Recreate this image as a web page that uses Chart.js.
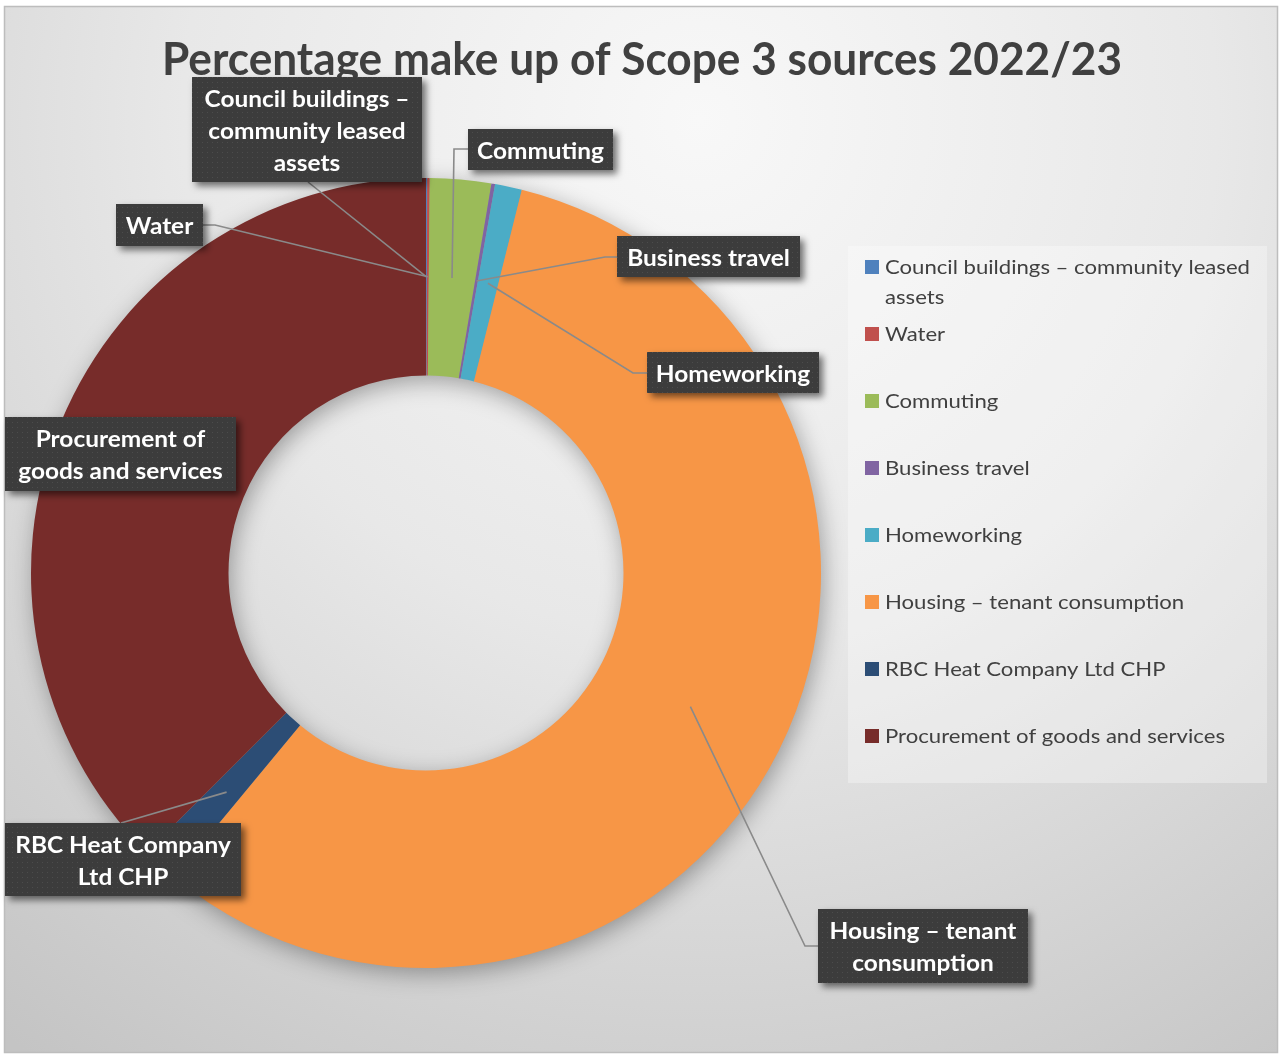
<!DOCTYPE html>
<html>
<head>
<meta charset="utf-8">
<script src="https://cdn.jsdelivr.net/npm/chart.js@4/dist/chart.umd.min.js"></script>
<style>
  html, body { margin: 0; padding: 0; background: #ffffff; }
  canvas { display: block; }
</style>
</head>
<body>
<canvas id="chart" width="1282" height="1055"></canvas>
<script>
// ---------------- DATA ----------------
const chartTitle = "Percentage make up of Scope 3 sources 2022/23";
const categories = [
  "Council buildings – community leased assets",
  "Water",
  "Commuting",
  "Business travel",
  "Homeworking",
  "Housing – tenant consumption",
  "RBC Heat Company Ltd CHP",
  "Procurement of goods and services"
];
// percentage share of each source
const shares = [0.05, 0.1, 2.5, 0.15, 1.1, 57.1, 1.5, 37.5];
const sliceColors = ["#4F81BD", "#C0504D", "#9BBB59", "#8064A2", "#4BACC6", "#F79646", "#2C4D75", "#772C2A"];
// how the data-label text is broken into lines
const dataLabelLines = [
  ["Council buildings –", "community leased", "assets"],
  ["Water"],
  ["Commuting"],
  ["Business travel"],
  ["Homeworking"],
  ["Housing – tenant", "consumption"],
  ["RBC Heat Company", "Ltd CHP"],
  ["Procurement of", "goods and services"]
];
// how the legend text is wrapped
const legendLines = [
  ["Council buildings – community leased", "assets"],
  ["Water"],
  ["Commuting"],
  ["Business travel"],
  ["Homeworking"],
  ["Housing – tenant consumption"],
  ["RBC Heat Company Ltd CHP"],
  ["Procurement of goods and services"]
];

// ---------------- LAYOUT (positions only) ----------------
const FONT = "Lato, 'Open Sans', 'Noto Sans', sans-serif";
// data label boxes: x, y, w, h, leader path from box to elbow (anchor = slice centre)
const labelLayout = [
  { box: [192, 77, 230, 105], path: [[308, 182]] },
  { box: [116, 204, 87, 42], path: [[203, 225], [215, 225]] },
  { box: [468, 129, 145, 41], path: [[468, 149], [454, 149]] },
  { box: [617, 236, 183, 41], path: [[617, 257], [605, 257]] },
  { box: [647, 352, 172, 41], path: [[647, 373], [633, 373]] },
  { box: [818, 909, 210, 74], path: [[818, 946], [805, 946]] },
  { box: [5, 823, 236, 73], path: [[121, 823]] },
  { box: [5, 417, 231, 74], path: null }
];
const legendLayout = { x: 848, y: 246, w: 419, h: 537, sq: 14, sqX: 865, textX: 885, firstCenter: 267, step: 67, lineGap: 30 };

// ---------------- HELPERS ----------------
function capRatio(ctx, weight) {
  ctx.save();
  ctx.font = weight + " 100px " + FONT;
  const r = ctx.measureText("H").actualBoundingBoxAscent / 100;
  ctx.restore();
  return r || 0.72;
}
function scaledText(ctx, text, x, y, sx, align) {
  ctx.save();
  ctx.translate(x, y);
  ctx.scale(sx, 1);
  ctx.textAlign = align;
  ctx.textBaseline = "alphabetic";
  ctx.fillText(text, 0, 0);
  ctx.restore();
}
let dotPattern = null;
function getPattern(ctx) {
  if (dotPattern) return dotPattern;
  const p = document.createElement("canvas");
  p.width = 5; p.height = 5;
  const pc = p.getContext("2d");
  pc.fillStyle = "#3c3c3c";
  pc.fillRect(0, 0, 5, 5);
  pc.fillStyle = "#4c4c4c";
  pc.fillRect(2, 2, 1, 1);
  dotPattern = ctx.createPattern(p, "repeat");
  return dotPattern;
}

// ---------------- PLUGINS ----------------
const backgroundPlugin = {
  id: "bgTitle",
  beforeDraw(chart) {
    const ctx = chart.ctx;
    const W = chart.width, H = chart.height;
    ctx.save();
    ctx.fillStyle = "#ffffff";
    ctx.fillRect(0, 0, W, H);
    const g = ctx.createRadialGradient(700, 120, 0, 700, 120, 1150);
    g.addColorStop(0, "#f8f8f8");
    g.addColorStop(0.45, "#e8e8e8");
    g.addColorStop(1, "#c4c4c4");
    ctx.fillStyle = g;
    ctx.fillRect(4, 6, 1274, 1047);
    ctx.strokeStyle = "#bdbdbd";
    ctx.lineWidth = 1.5;
    ctx.strokeRect(4.5, 6.5, 1273, 1046);
    // title
    const fs = 34 / capRatio(ctx, "bold");
    ctx.font = "bold " + fs + "px " + FONT;
    const w = ctx.measureText(chartTitle).width;
    ctx.fillStyle = "#404040";
    scaledText(ctx, chartTitle, 642, 75, 960 / w, "center");
    ctx.restore();
  }
};

const ringShadowPlugin = {
  id: "ringShadow",
  beforeDatasetsDraw(chart) {
    const arc = chart.getDatasetMeta(0).data[0];
    if (!arc) return;
    const ctx = chart.ctx;
    ctx.save();
    ctx.beginPath();
    ctx.arc(arc.x, arc.y, arc.outerRadius - 1, 0, Math.PI * 2);
    ctx.arc(arc.x, arc.y, arc.innerRadius + 1, 0, Math.PI * 2, true);
    ctx.closePath();
    ctx.shadowColor = "rgba(0,0,0,0.35)";
    ctx.shadowBlur = 24;
    ctx.shadowOffsetX = 3;
    ctx.shadowOffsetY = 6;
    ctx.fillStyle = "#999999";
    ctx.fill();
    ctx.restore();
  }
};

const labelsPlugin = {
  id: "calloutLabels",
  afterDatasetsDraw(chart) {
    const ctx = chart.ctx;
    const meta = chart.getDatasetMeta(0);
    // ---- legend ----
    ctx.save();
    const L = legendLayout;
    ctx.fillStyle = "rgba(255,255,255,0.32)";
    ctx.fillRect(L.x, L.y, L.w, L.h);
    const lfs = 13.5 / capRatio(ctx, "normal");
    ctx.font = "normal " + lfs + "px " + FONT;
    const lsx = 365 / ctx.measureText(legendLines[0][0]).width;
    categories.forEach((c, i) => {
      const cy = L.firstCenter + i * L.step;
      ctx.fillStyle = sliceColors[i];
      ctx.fillRect(L.sqX, cy - L.sq / 2, L.sq, L.sq);
      ctx.fillStyle = "#404040";
      legendLines[i].forEach((ln, k) => {
        scaledText(ctx, ln, L.textX, cy + 6.5 + k * L.lineGap, lsx, "left");
      });
    });
    ctx.restore();

    // ---- leader lines ----
    ctx.save();
    ctx.strokeStyle = "#8a8a8a";
    ctx.lineWidth = 1.6;
    labelLayout.forEach((lay, i) => {
      if (!lay.path) return;
      const p = meta.data[i].getCenterPoint();
      ctx.beginPath();
      ctx.moveTo(lay.path[0][0], lay.path[0][1]);
      for (let k = 1; k < lay.path.length; k++) ctx.lineTo(lay.path[k][0], lay.path[k][1]);
      ctx.lineTo(p.x, p.y);
      ctx.stroke();
    });
    ctx.restore();

    // ---- label boxes ----
    const fs = 16 / capRatio(ctx, "bold");
    ctx.save();
    ctx.font = "bold " + fs + "px " + FONT;
    const sx = 127 / ctx.measureText("Commuting").width;
    labelLayout.forEach((lay, i) => {
      const [x, y, w, h] = lay.box;
      ctx.save();
      ctx.shadowColor = "rgba(0,0,0,0.55)";
      ctx.shadowBlur = 7;
      ctx.shadowOffsetX = 4;
      ctx.shadowOffsetY = 4;
      ctx.fillStyle = getPattern(ctx);
      ctx.fillRect(x, y, w, h);
      ctx.restore();
      ctx.fillStyle = "#ffffff";
      const lines = dataLabelLines[i];
      const cx = x + w / 2, cy = y + h / 2;
      lines.forEach((ln, k) => {
        const by = cy + (k - (lines.length - 1) / 2) * 32 + 9;
        scaledText(ctx, ln, cx, by, sx, "center");
      });
    });
    ctx.restore();
  }
};

// ---------------- CHART ----------------
new Chart(document.getElementById("chart"), {
  type: "doughnut",
  data: {
    labels: categories,
    datasets: [{
      data: shares,
      backgroundColor: sliceColors,
      borderWidth: 0,
      hoverOffset: 0,
      offset: 0
    }]
  },
  options: {
    responsive: false,
    animation: false,
    cutout: "50%",
    events: [],
    layout: { padding: { left: 31, right: 461, top: 178, bottom: 87 } },
    plugins: {
      legend: { display: false },
      title: { display: false },
      tooltip: { enabled: false }
    }
  },
  plugins: [backgroundPlugin, ringShadowPlugin, labelsPlugin]
});
</script>
</body>
</html>
